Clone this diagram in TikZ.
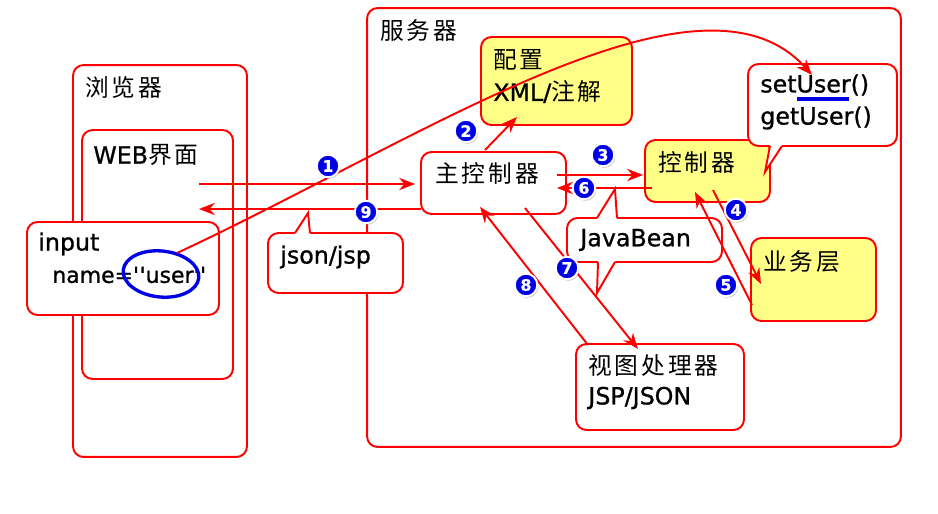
\documentclass[tikz,border=0pt]{standalone}
\usepackage{fontspec}
\setmainfont{DejaVu Sans}[FakeBold=1]
\newfontfamily\cjk{Noto Sans CJK SC}[LetterSpace=12]
\usetikzlibrary{arrows.meta,shadows}
\definecolor{lred}{RGB}{255,0,0}
\definecolor{lyel}{RGB}{255,255,136}
\definecolor{lblue}{RGB}{0,0,230}
\begin{document}
\begin{tikzpicture}[x=0.02cm,y=-0.02cm,
  box/.style={draw=lred, line width=1.1pt, rounded corners=6pt, fill=white, inner sep=0},
  ybox/.style={box, fill=lyel},
  lbl/.style={anchor=west, inner sep=0, font=\fontsize{13.5}{16}\selectfont},
  arr/.style={draw=lred, line width=1.1pt, -{Stealth[length=9pt,width=7pt]}},
  tailline/.style={draw=lred, line width=1.1pt, line join=miter},
  num/.style={circle, fill=lblue, draw=white, line width=1.1pt, minimum size=0.45cm, inner sep=0, text=white,
    font=\fontsize{9}{9}\selectfont\bfseries,
    drop shadow={opacity=0.4, shadow xshift=0.7pt, shadow yshift=-0.9pt}}
]
\useasboundingbox (0,0) rectangle (938,514);
\fill[white] (0,0) rectangle (938,514);

% browser side
\node[box, minimum width=3.48cm, minimum height=7.84cm] (browser) at (160,261) {};
\node[lbl] (browserlbl) at (85,87) {\cjk 浏览器};
\node[box, minimum width=3.02cm, minimum height=4.98cm] (web) at (157.5,254.5) {};
\node[lbl] (weblbl) at (93,155) {WEB{\cjk 界面}};

% server
\node[box, minimum width=10.68cm, minimum height=8.78cm] (server) at (634,227.5) {};
\node[lbl] (serverlbl) at (380,30) {\cjk 服务器};

% input box
\node[box, minimum width=3.84cm, minimum height=1.86cm] (input) at (123,268.5) {};
\node[lbl] (inputt1) at (38,244) {input};
\node[lbl, font=\fontsize{12.5}{15}\selectfont] (inputt2) at (52,275) {name=\textquotesingle\kern0.3pt\textquotesingle user\textquotesingle\kern0.3pt\textquotesingle};

% json/jsp callout
\node[box, minimum width=2.7cm, minimum height=1.2cm] (json) at (335.5,263) {};
\fill[white] (295,236) -- (295,233) -- (308,213) -- (310,233) -- (310,236) -- cycle;
\draw[tailline] (295,233) -- (308,213) -- (310,233);
\node[lbl] (jsontxt) at (280,257) {json/jsp};

% config
\node[ybox, minimum width=3.02cm, minimum height=1.76cm] (config) at (556.5,81) {};
\node[lbl] (configt1) at (493,60) {\cjk 配置};
\node[lbl] (configt2) at (493,92) {XML/{\cjk 注解}};

% main controller
\node[box, minimum width=2.9cm, minimum height=1.24cm] (main) at (493.5,183) {};
\node[lbl] (maintxt) at (435,173) {\cjk 主控制器};

% controller
\node[ybox, minimum width=2.5cm, minimum height=1.24cm] (ctrl) at (707.5,171) {};
\node[lbl] (ctrltxt) at (658,162) {\cjk 控制器};

% setUser callout
\node[box, minimum width=2.98cm, minimum height=1.64cm] (setuser) at (822.5,105) {};
\fill[white] (770,143) -- (770,146) -- (765,172) -- (782,146) -- (782,143) -- cycle;
\draw[tailline] (770,146) -- (765,172) -- (782,146);
\node[lbl] (sett1) at (760,85) {setUser()};
\node[lbl] (sett2) at (760,118) {getUser()};
\draw[lblue, line width=1.8pt] (797,99) -- (849,99);

% business layer
\node[ybox, minimum width=2.5cm, minimum height=1.66cm] (biz) at (813.5,279.5) {};
\node[lbl] (biztxt) at (763,262) {\cjk 业务层};

% JavaBean callout
\node[box, minimum width=3.1cm, minimum height=0.88cm] (bean) at (644.5,240) {};
\fill[white] (597,221) -- (597,218) -- (615,189) -- (617,218) -- (617,221) -- cycle;
\draw[tailline] (597,218) -- (615,189) -- (617,218);
\fill[white] (598,259) -- (598,262) -- (597,293) -- (615,262) -- (615,259) -- cycle;
\draw[tailline] (598,262) -- (597,293) -- (615,262);
\node[lbl] (beantxt) at (580,240) {JavaBean};

% view handler
\node[box, minimum width=3.36cm, minimum height=1.72cm] (view) at (660,387) {};
\node[lbl] (viewt1) at (588,366) {\cjk 视图处理器};
\node[lbl] (viewt2) at (588,398) {JSP/JSON};

% arrow end points
\coordinate (a1s) at (199,184); \coordinate (a1e) at (415,184);
\coordinate (a9s) at (421,209); \coordinate (a9e) at (199,209);
\coordinate (a2s) at (485,150); \coordinate (a2e) at (517,117);
\coordinate (a3s) at (557,175); \coordinate (a3e) at (643,175);
\coordinate (a6s) at (652,188); \coordinate (a6e) at (557,188);
\coordinate (a4s) at (713,190); \coordinate (a4e) at (761,284);
\coordinate (a5s) at (752,305); \coordinate (a5e) at (695,192);
\coordinate (a7s) at (525,208); \coordinate (a7e) at (638,349);
\coordinate (a8s) at (588,345); \coordinate (a8e) at (480,207);
\coordinate (cs) at (177,253); \coordinate (ce) at (812,75);

\draw[arr] (a1s) -- (a1e);
\draw[arr] (a9s) -- (a9e);
\draw[arr] (a2s) -- (a2e);
\draw[arr] (a3s) -- (a3e);
\draw[arr] (a6s) -- (a6e);
\draw[arr] (a4s) -- (a4e);
\draw[arr] (a5s) -- (a5e);
\draw[arr] (a7s) -- (a7e);
\draw[arr] (a8s) -- (a8e);

% blue scribble round user
\draw[lblue, line width=1.9pt, rotate around={-6:(161,274)}] (161,274) ellipse [x radius=0.76cm, y radius=0.46cm];

% long curve
\draw[arr] (cs) .. controls (420,140) and (700,-50) .. (ce);

% step numbers
\node[num] (n1) at (328,166) {1};
\node[num] (n2) at (466,131) {2};
\node[num] (n3) at (603,155) {3};
\node[num] (n4) at (736,210) {4};
\node[num] (n5) at (726,285) {5};
\node[num] (n6) at (584,188) {6};
\node[num] (n7) at (567,268) {7};
\node[num] (n8) at (526,285) {8};
\node[num] (n9) at (366,212) {9};
\end{tikzpicture}
\end{document}
